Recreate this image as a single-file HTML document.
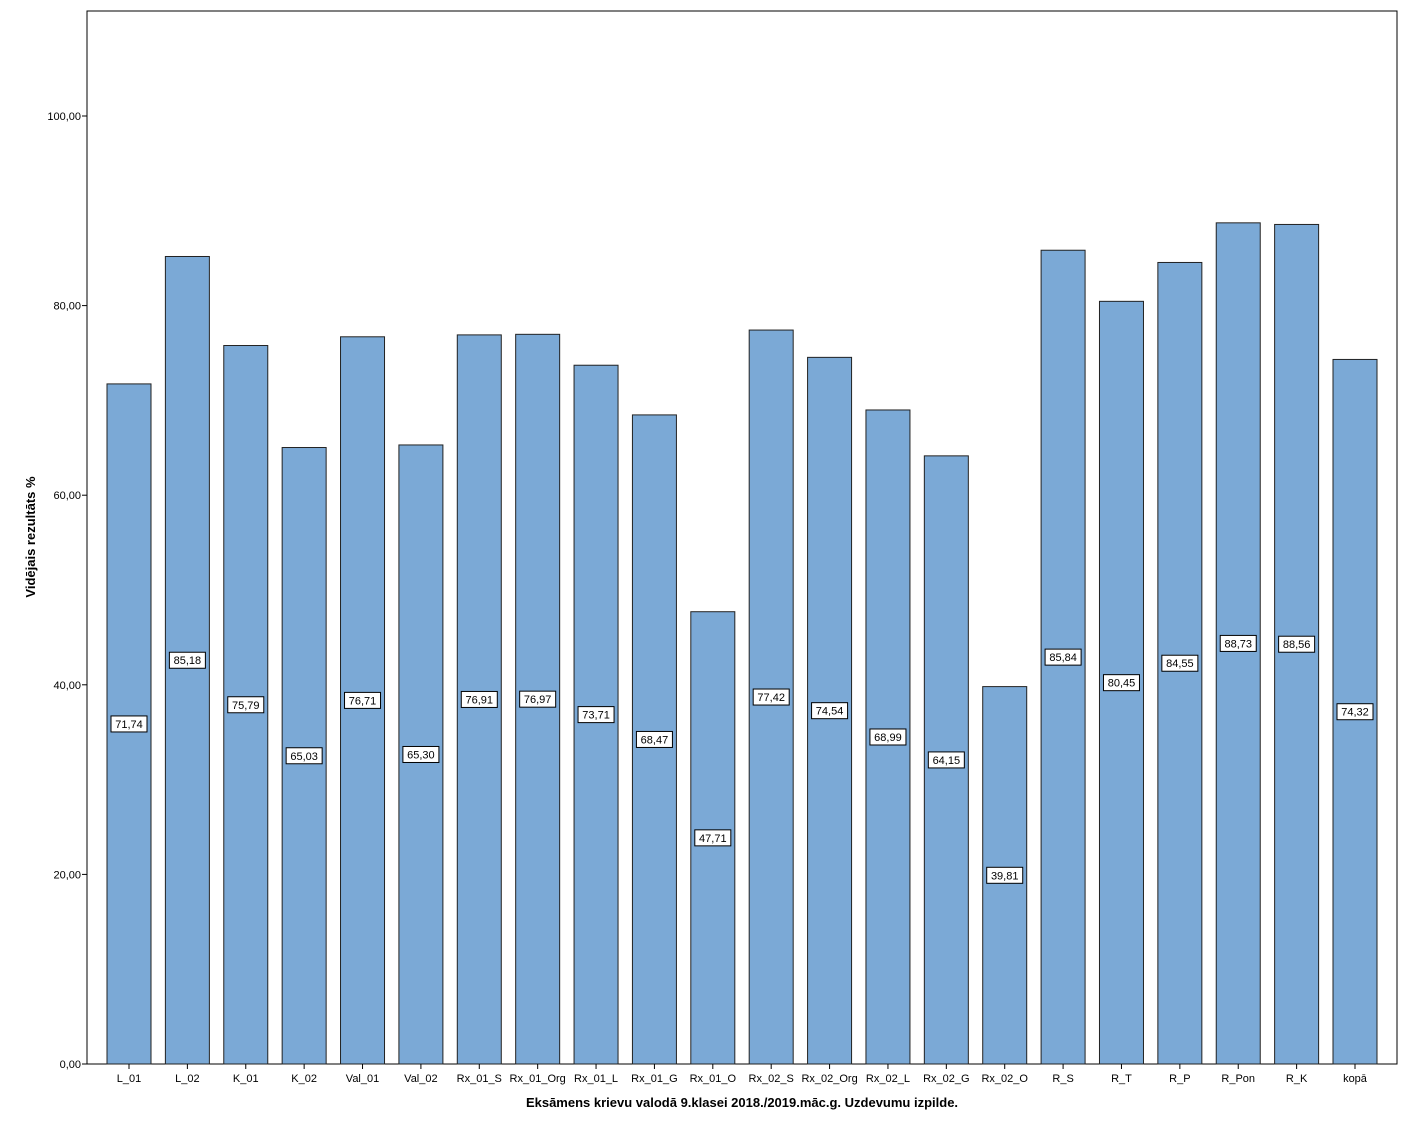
<!DOCTYPE html>
<html><head><meta charset="utf-8"><style>
body{margin:0;background:#fff;}
svg text{font-family:"Liberation Sans",Arial,sans-serif;}
</style></head><body>
<svg id="chart" width="1411" height="1129" xmlns="http://www.w3.org/2000/svg"></svg>
<script>
const categories=["L_01","L_02","K_01","K_02","Val_01","Val_02","Rx_01_S","Rx_01_Org","Rx_01_L","Rx_01_G","Rx_01_O","Rx_02_S","Rx_02_Org","Rx_02_L","Rx_02_G","Rx_02_O","R_S","R_T","R_P","R_Pon","R_K","kopā"];
const values=[71.74,85.18,75.79,65.03,76.71,65.30,76.91,76.97,73.71,68.47,47.71,77.42,74.54,68.99,64.15,39.81,85.84,80.45,84.55,88.73,88.56,74.32];
const yTicks=[0,20,40,60,80,100];
const NS="http://www.w3.org/2000/svg";
const svg=document.getElementById('chart');
const L=87,R=1397,T=11,B=1064;
const y=v=>B-v*9.48;
const step=(R-L-84)/(categories.length-1);
const x=i=>L+42+i*step;
const fmt=v=>v.toFixed(2).replace('.',',');
function mk(tag,attrs,text){const e=document.createElementNS(NS,tag);for(const k in attrs)e.setAttribute(k,attrs[k]);if(text!==undefined)e.textContent=text;svg.appendChild(e);return e;}
let frame=mk('rect',{x:L,y:T,width:R-L,height:B-T,fill:'none',stroke:'#000','stroke-width':1});


yTicks.forEach(t=>{
  let tk=mk('line',{x1:L-5,x2:L,y1:y(t),y2:y(t),stroke:'#000'});
  
  
  let tl=mk('text',{x:L-6,y:y(t)+4,'font-size':11,'text-anchor':'end'},fmt(t));
  
  
});
categories.forEach((c,i)=>{
  const v=values[i],cx=x(i);
  let b=mk('rect',{x:cx-22,y:y(v),width:44,height:B-y(v),fill:'#7BA9D6',stroke:'#222','stroke-width':1});
  
  
  let lb=mk('rect',{x:cx-18,y:y(v/2)-8,width:36,height:16,fill:'#fff',stroke:'#000','stroke-width':1});
  
  
  let lt=mk('text',{x:cx,y:y(v/2)+4,'font-size':11,'text-anchor':'middle'},fmt(v));
  
  
  let tk=mk('line',{x1:cx,x2:cx,y1:B,y2:B+5,stroke:'#000'});
  
  
  let xl=mk('text',{x:cx,y:B+18,'font-size':11,'text-anchor':'middle'},c);
  
  
});
let xt=mk('text',{x:742,y:1107,'font-size':13,'font-weight':'bold','text-anchor':'middle'},'Eksāmens krievu valodā 9.klasei 2018./2019.māc.g. Uzdevumu izpilde.');


let yt=mk('text',{x:0,y:0,'font-size':13,'font-weight':'bold','text-anchor':'middle',transform:'translate(35,537) rotate(-90)'},'Vidējais rezultāts %');


</script>
</body></html>
